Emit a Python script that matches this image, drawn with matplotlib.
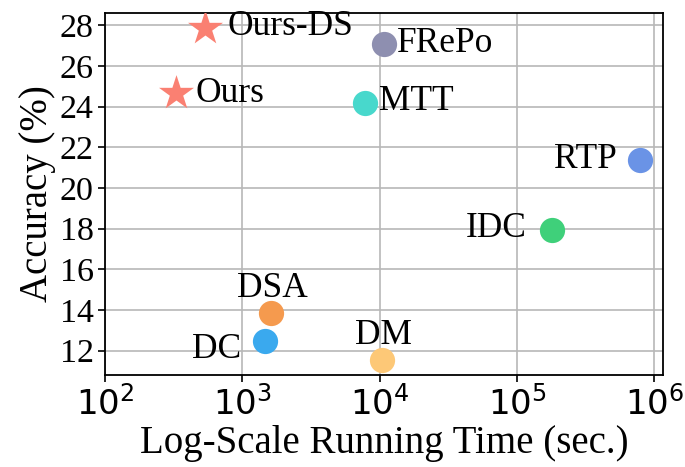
import numpy as np
import matplotlib.pyplot as plt

# running time (sec.) and accuracy (%) for each method
methods = ['Ours-DS', 'Ours', 'FRePo', 'MTT', 'RTP', 'IDC', 'DSA', 'DC', 'DM']
times = [535, 329, 10700, 7830, 7.9e5, 1.8e5, 1620, 1460, 10500]
accs = [27.85, 24.66, 27.1, 24.2, 21.35, 17.95, 13.85, 12.45, 11.55]
colors = ['#fa8072', '#fa8072', '#8e8fb0', '#48d8cc', '#6a93e6',
          '#3fd07a', '#f59a4e', '#3aa9ee', '#fdc877']
markers = ['*', '*', 'o', 'o', 'o', 'o', 'o', 'o', 'o']

# label offsets in points and alignment
offsets = {'Ours-DS': (16, 1, 'left', 'center'),
           'Ours': (14, 0, 'left', 'center'),
           'FRePo': (10, 0, 'left', 'center'),
           'MTT': (10, 1, 'left', 'center'),
           'RTP': (-17, 1, 'right', 'center'),
           'IDC': (-18, 1, 'right', 'center'),
           'DSA': (1, 11.5, 'center', 'baseline'),
           'DC': (-17, -6, 'right', 'center'),
           'DM': (1, 11, 'center', 'baseline')}

serif = ['Liberation Serif', 'DejaVu Serif']

fig = plt.figure(figsize=(6.85, 4.67), dpi=100)
ax = fig.add_axes([0.153, 0.197, 0.815, 0.775])

for m, t, a, c, mk in zip(methods, times, accs, colors, markers):
    s = 700 if mk == '*' else 330
    ax.scatter(t, a, s=s, c=c, marker=mk, linewidths=0, zorder=3)
    dx, dy, ha, va = offsets[m]
    ax.annotate(m, (t, a), xytext=(dx, dy), textcoords='offset points',
                ha=ha, va=va, fontsize=25.5, family=serif, zorder=4)

ax.set_xscale('log')
ax.set_xlim(100, 1.16e6)
ax.set_ylim(10.8, 28.6)
ax.set_yticks(np.arange(12, 29, 2))
ax.set_xticks([1e2, 1e3, 1e4, 1e5, 1e6])
ax.minorticks_off()
ax.grid(True, color='#b8b8b8', linewidth=1.2, zorder=0)
ax.set_axisbelow(True)

for sp in ax.spines.values():
    sp.set_linewidth(1.3)
ax.tick_params(axis='both', length=5, width=1.2)
ax.tick_params(axis='x', labelsize=24.5, pad=3)
ax.tick_params(axis='y', labelsize=24.5, pad=3)
for lbl in ax.get_yticklabels():
    lbl.set_family(serif)

ax.set_xlabel('Log-Scale Running Time (sec.)', fontsize=28, family=serif, labelpad=2)
ax.set_ylabel('Accuracy (%)', fontsize=28, family=serif, labelpad=3)

fig.savefig('out.png', dpi=100)
